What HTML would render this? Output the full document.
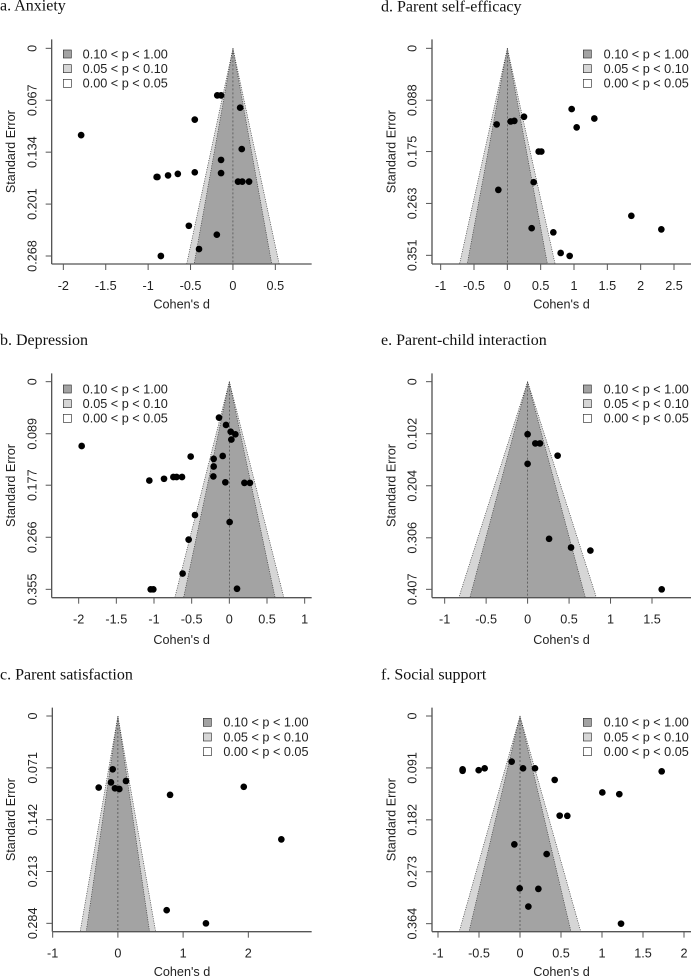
<!DOCTYPE html>
<html><head><meta charset="utf-8">
<style>
html,body{margin:0;padding:0;background:#fff;}
#fig{position:relative;width:692px;height:978px;overflow:hidden;}
.panel{position:absolute;}
text{font-family:"Liberation Sans",sans-serif;fill:#222;}
.ttl{font-family:"Liberation Serif",serif;fill:#111;}
</style></head>
<body>
<div id="fig"></div>
<script>
// ---- data (Cohen's d, standard error) ----
const anxD=[-0.185,-0.14,0.085,-0.45,-1.79,0.104,-0.14,-0.89,-0.90,-0.765,-0.65,-0.45,-0.14,0.06,0.11,0.19,-0.52,-0.19,-0.40,-0.85];
const anxSE=[0.0607,0.0607,0.0766,0.092,0.112,0.130,0.144,0.166,0.166,0.164,0.162,0.160,0.161,0.172,0.172,0.172,0.229,0.2405,0.259,0.268];
const depD=[-0.137,-0.044,0.018,0.08,0.027,-1.96,-0.513,-0.088,-0.208,-0.208,-0.212,-0.628,-0.70,-0.743,-0.867,-1.062,-0.053,0.20,0.274,-0.456,0.004,-0.54,-0.62,-1.044,-1.009,0.102];
const depSE=[0.0615,0.074,0.0855,0.090,0.099,0.110,0.128,0.127,0.132,0.145,0.162,0.163,0.163,0.163,0.166,0.169,0.172,0.173,0.173,0.228,0.240,0.270,0.328,0.355,0.355,0.354];
const satD=[-0.08,-0.106,0.124,-0.294,-0.045,0.022,0.80,1.93,2.506,0.748,1.35];
const satSE=[0.073,0.0909,0.089,0.098,0.099,0.100,0.108,0.097,0.169,0.266,0.284];
const effD=[0.965,1.305,0.25,0.105,0.05,-0.16,1.04,0.47,0.51,0.395,-0.135,1.86,2.31,0.365,0.69,0.80,0.935];
const effSE=[0.103,0.119,0.116,0.123,0.124,0.129,0.134,0.175,0.175,0.227,0.240,0.284,0.307,0.305,0.312,0.347,0.352];
const pciD=[0,0.093,0.149,0.362,0,0.259,0.524,0.757,1.617];
const pciSE=[0.103,0.121,0.121,0.145,0.161,0.308,0.325,0.331,0.407];
const socD=[-0.70,-0.70,-0.504,-0.431,-0.102,0.037,0.183,0.423,1.728,1.004,1.211,0.484,0.577,-0.069,0.325,-0.004,0.224,0.102,1.232];
const socSE=[0.0935,0.096,0.095,0.0917,0.080,0.0917,0.0917,0.112,0.097,0.134,0.137,0.1747,0.175,0.225,0.242,0.302,0.303,0.334,0.364];
const anxXTicks=[-2,-1.5,-1,-0.5,0,0.5];
const depXTicks=[-2,-1.5,-1,-0.5,0,0.5,1];
const satXTicks=[-1,0,1,2];
const effXTicks=[-1,-0.5,0,0.5,1,1.5,2,2.5];
const pciXTicks=[-1,-0.5,0,0.5,1,1.5];
const socXTicks=[-1,-0.5,0,0.5,1,1.5,2];
const anxYTicks=["0","0.067","0.134","0.201","0.268"];
const depYTicks=["0","0.089","0.177","0.266","0.355"];
const satYTicks=["0","0.071","0.142","0.213","0.284"];
const effYTicks=["0","0.088","0.175","0.263","0.351"];
const pciYTicks=["0","0.102","0.204","0.306","0.407"];
const socYTicks=["0","0.091","0.182","0.273","0.364"];
const legendLabels=["0.10 < p < 1.00","0.05 < p < 0.10","0.00 < p < 0.05"];

// layout in 3x "zoom" coordinates per panel
const panels=[
 {name:"anxiety",title:"a. Anxiety",ox:0,oy:0,w:346,h:320,tx:0,ty:32,ax:155,bx:935,axTop:118,axBot:792,
  xa:-2,xpa:190,xb:0.5,xpb:826,y0:145,seMax:0.268,ypMax:768,d:anxD,se:anxSE,xt:anxXTicks,yt:anxYTicks,leg:[190,248,162],ylx:45,xly:925},
 {name:"parent-self-efficacy",title:"d. Parent self-efficacy",ox:346,oy:0,w:346,h:320,tx:105,ty:35,ax:258,bx:1035,axTop:118,axBot:792,
  xa:-1,xpa:284,xb:1,xpb:684,y0:145,seMax:0.351,ypMax:766,d:effD,se:effSE,xt:effXTicks,yt:effYTicks,leg:[712,773,162],ylx:148,xly:925},
 {name:"depression",title:"b. Depression",ox:0,oy:320,w:346,h:330,tx:0,ty:75,ax:155,bx:935,axTop:160,axBot:833,
  xa:-2,xpa:236,xb:1,xpb:914,y0:185,seMax:0.355,ypMax:808,d:depD,se:depSE,xt:depXTicks,yt:depYTicks,leg:[190,248,207],ylx:45,xly:972},
 {name:"parent-child-interaction",title:"e. Parent-child interaction",ox:346,oy:320,w:346,h:330,tx:105,ty:75,ax:258,bx:1035,axTop:160,axBot:833,
  xa:-1,xpa:296,xb:1.5,xpb:918,y0:185,seMax:0.407,ypMax:808,d:pciD,se:pciSE,xt:pciXTicks,yt:pciYTicks,leg:[712,773,207],ylx:148,xly:972},
 {name:"parent-satisfaction",title:"c. Parent satisfaction",ox:0,oy:650,w:346,h:328,tx:0,ty:88,ax:157,bx:935,axTop:173,axBot:845,
  xa:-1,xpa:158,xb:2,xpb:745,y0:198,seMax:0.284,ypMax:820,d:satD,se:satSE,xt:satXTicks,yt:satYTicks,leg:[610,670,217],ylx:45,xly:978},
 {name:"social-support",title:"f. Social support",ox:346,oy:650,w:346,h:328,tx:105,ty:88,ax:258,bx:1035,axTop:173,axBot:845,
  xa:-1,xpa:276,xb:2,xpb:1014,y0:198,seMax:0.364,ypMax:821,d:socD,se:socSE,xt:socXTicks,yt:socYTicks,leg:[712,773,217],ylx:148,xly:978}
];
const NS="http://www.w3.org/2000/svg";
function mk(tag,attrs,parent){const e=document.createElementNS(NS,tag);for(const k in attrs)e.setAttribute(k,attrs[k]);parent.appendChild(e);return e;}
const fig=document.getElementById('fig');
panels.forEach(p=>{
  const svg=document.createElementNS(NS,'svg');
  svg.setAttribute('class','panel');
  svg.setAttribute('width',p.w);svg.setAttribute('height',p.h);
  svg.setAttribute('viewBox',`0 0 ${p.w*3} ${p.h*3}`);
  svg.style.left=p.ox+'px';svg.style.top=p.oy+'px';
  
  
  fig.appendChild(svg);
  const xS=(p.xpb-p.xpa)/(p.xb-p.xa);
  const X=v=>p.xpa+(v-p.xa)*xS;
  const yS=(p.ypMax-p.y0)/p.seMax;
  const Y=v=>p.y0+v*yS;
  const seB=(p.axBot-p.y0)/yS;
  const x0=X(0);
  const t=mk('text',{x:p.tx,y:p.ty,'font-size':48,class:'ttl'},svg);t.textContent=p.title;
  
  
  const f1=mk('polygon',{points:`${x0},${p.y0} ${X(-1.96*seB)},${p.axBot} ${X(1.96*seB)},${p.axBot}`,fill:'#d6d6d6'},svg);
  
  
  const f2=mk('polygon',{points:`${x0},${p.y0} ${X(-1.645*seB)},${p.axBot} ${X(1.645*seB)},${p.axBot}`,fill:'#a3a3a3'},svg);
  
  
  [1.645,1.96].forEach(z=>{[-1,1].forEach(s=>{
    mk('line',{x1:x0,y1:p.y0,x2:X(s*z*seB),y2:p.axBot,stroke:'#333','stroke-width':2,'stroke-dasharray':'3 4'},svg);
  });});
  mk('line',{x1:x0,y1:p.y0,x2:x0,y2:p.axBot,stroke:'#444','stroke-width':2,'stroke-dasharray':'6 6'},svg);
  const xa=mk('line',{x1:p.ax,y1:p.axBot,x2:p.bx,y2:p.axBot,stroke:'#555','stroke-width':4},svg);
  
  
  const ya=mk('line',{x1:p.ax,y1:p.axTop,x2:p.ax,y2:p.axBot,stroke:'#555','stroke-width':4},svg);
  
  
  p.xt.forEach(v=>{
    mk('line',{x1:X(v),y1:p.axBot,x2:X(v),y2:p.axBot+18,stroke:'#555','stroke-width':3},svg);
    const tl=mk('text',{x:X(v),y:p.axBot+78,'font-size':38,'text-anchor':'middle'},svg);tl.textContent=String(v);
    
    
  });
  p.yt.forEach(s=>{
    const yy=Y(parseFloat(s));
    mk('line',{x1:p.ax-18,y1:yy,x2:p.ax,y2:yy,stroke:'#555','stroke-width':3},svg);
    const tl=mk('text',{x:p.ax-46,y:yy,'font-size':38,'text-anchor':'middle',transform:`rotate(-90 ${p.ax-46} ${yy})`},svg);tl.textContent=s;
    
    
  });
  const yl=(p.axTop+p.axBot)/2;
  const ylab=mk('text',{x:p.ylx,y:yl,'font-size':38,'text-anchor':'middle',transform:`rotate(-90 ${p.ylx} ${yl})`},svg);ylab.textContent='Standard Error';
  
  
  const xlab=mk('text',{x:(p.ax+p.bx)/2,y:p.xly,'font-size':38,'text-anchor':'middle'},svg);xlab.textContent="Cohen's d";
  
  
  const fills=['#a3a3a3','#d6d6d6','#ffffff'];
  legendLabels.forEach((lab,i)=>{
    const yy=p.leg[2]+i*44;
    const r=mk('rect',{x:p.leg[0],y:yy-12,width:24,height:24,fill:fills[i],stroke:'#333','stroke-width':2},svg);
    
    
    const tl=mk('text',{x:p.leg[1],y:yy+13,'font-size':38},svg);tl.textContent=lab;
    
    
  });
  p.d.forEach((d,i)=>{
    const c=mk('circle',{cx:X(d),cy:Y(p.se[i]),r:10,fill:'#000'},svg);
    
    
  });
});
</script>
</body></html>
